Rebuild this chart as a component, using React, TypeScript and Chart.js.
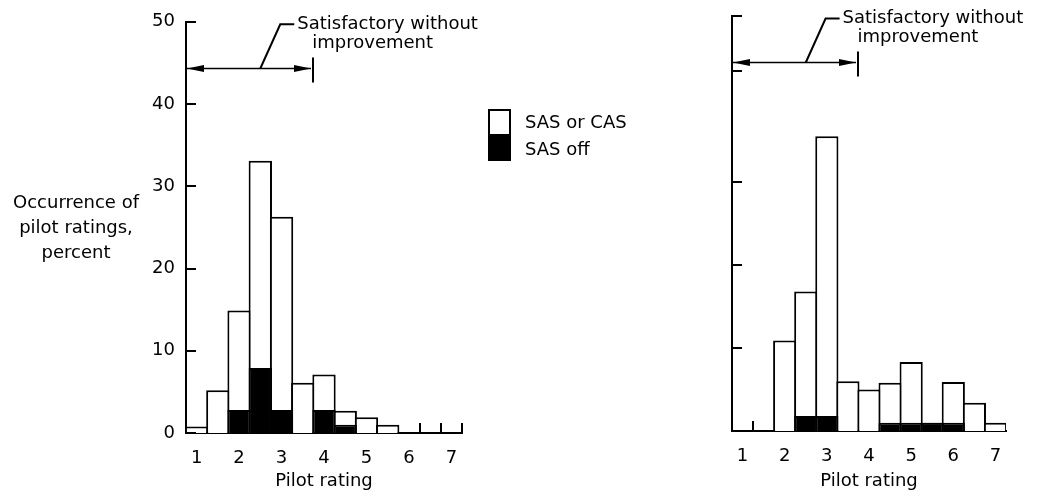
import React, { useEffect, useRef } from "react";
import { Chart, registerables } from "chart.js";

Chart.register(...registerables);

// ---- data ----
const ratings = [1, 1.5, 2, 2.5, 3, 3.5, 4, 4.5, 5, 5.5, 6, 6.5, 7];
const leftTotal = [0.8, 5.2, 14.9, 33.1, 26.3, 6.1, 7.1, 2.7, 1.9, 1.0, 0, 0, 0];
const leftOff = [0, 0, 2.8, 7.9, 2.8, 0, 2.8, 1.0, 0, 0, 0, 0, 0];
const rightTotal = [0, 0, 10.9, 16.8, 35.5, 6.0, 5.0, 5.8, 8.3, 1.0, 5.9, 3.4, 1.0];
const rightOff = [0, 0, 0, 1.8, 1.8, 0, 0, 1.0, 1.0, 1.0, 1.0, 0, 0];
const xTickValues = [1, 2, 3, 4, 5, 6, 7];
const leftYTicks = [0, 10, 20, 30, 40, 50];
const rightYTicks = [0, 10, 20, 30, 43.4, 50];
const yMax = 50;
const binWidth = 0.5;
const satisfactoryLimit = 3.75;
const arrowLevel = 44.4;
const noteLevel = 49.7;
const leaderFoot = 2.5;
const leaderTop = 2.97;
const noteLines = ["Satisfactory without", "improvement"];
const legendLabels = ["SAS or CAS", "SAS off"];
const yTitleLines = ["Occurrence of", "pilot ratings,", "percent"];
const xTitle = "Pilot rating";

const W = 1037;
const H = 502;
const FONT = "'DejaVu Sans', sans-serif";

type Area = { left: number; right: number; top: number; bottom: number };

function makeDecor(total: number[], withLegend: boolean) {
  return {
    id: "decor",
    beforeDatasetsDraw(chart: any) {
      const { ctx, chartArea } = chart;
      const x = chart.scales.x;
      ctx.save();
      ctx.strokeStyle = "#000";
      ctx.lineWidth = 2;
      // bin-boundary ticks where both neighbouring bins are empty
      for (let i = 1; i <= ratings.length; i++) {
        const lv = total[i - 1] ?? 0;
        const rv = i < ratings.length ? total[i] : 0;
        if (lv === 0 && rv === 0) {
          const xv = ratings[i - 1] + binWidth / 2;
          const px = Math.round(x.getPixelForValue(xv));
          ctx.beginPath();
          ctx.moveTo(px, chartArea.bottom);
          ctx.lineTo(px, chartArea.bottom - 10);
          ctx.stroke();
        }
      }
      ctx.restore();
    },
    afterDraw(chart: any) {
      const { ctx, chartArea } = chart;
      const x = chart.scales.x;
      const y = chart.scales.y;
      ctx.save();
      ctx.strokeStyle = "#000";
      ctx.fillStyle = "#000";
      // inward y ticks
      ctx.lineWidth = 2;
      for (const t of y.ticks) {
        const py = Math.round(y.getPixelForValue(t.value));
        ctx.beginPath();
        ctx.moveTo(chartArea.left, py);
        ctx.lineTo(chartArea.left + 10, py);
        ctx.stroke();
      }
      // double arrow
      const ay = Math.round(y.getPixelForValue(arrowLevel)) + 0.5;
      const x0 = chartArea.left + 1;
      const x1 = Math.round(x.getPixelForValue(satisfactoryLimit));
      ctx.lineWidth = 1.5;
      ctx.beginPath();
      ctx.moveTo(x0, ay);
      ctx.lineTo(x1 - 2, ay);
      ctx.stroke();
      ctx.beginPath();
      ctx.moveTo(x0, ay);
      ctx.lineTo(x0 + 17, ay - 3.5);
      ctx.lineTo(x0 + 17, ay + 3.5);
      ctx.closePath();
      ctx.fill();
      ctx.beginPath();
      ctx.moveTo(x1 - 2, ay);
      ctx.lineTo(x1 - 19, ay - 3.5);
      ctx.lineTo(x1 - 19, ay + 3.5);
      ctx.closePath();
      ctx.fill();
      ctx.lineWidth = 2;
      ctx.beginPath();
      ctx.moveTo(x1, ay - 11);
      ctx.lineTo(x1, ay + 14);
      ctx.stroke();
      // leader + note
      const fx = x.getPixelForValue(leaderFoot);
      const tx = x.getPixelForValue(leaderTop);
      const ty = y.getPixelForValue(noteLevel);
      ctx.lineWidth = 2;
      ctx.beginPath();
      ctx.moveTo(fx, ay);
      ctx.lineTo(tx, ty);
      ctx.lineTo(tx + 14, ty);
      ctx.stroke();
      ctx.font = `18px ${FONT}`;
      ctx.textBaseline = "middle";
      ctx.textAlign = "left";
      ctx.fillText(noteLines[0], tx + 17, ty);
      ctx.fillText(noteLines[1], tx + 32, ty + 19);

      if (withLegend) {
        // legend swatch
        ctx.fillStyle = "#fff";
        ctx.fillRect(489, 110, 21, 50);
        ctx.fillStyle = "#000";
        ctx.fillRect(489, 134, 21, 26);
        ctx.lineWidth = 2;
        ctx.strokeRect(489, 110, 21, 50);
        ctx.font = `18px ${FONT}`;
        ctx.textBaseline = "middle";
        ctx.fillText(legendLabels[0], 525, 123);
        ctx.fillText(legendLabels[1], 525, 150);
        // y title
        ctx.textAlign = "center";
        yTitleLines.forEach((s, i) => ctx.fillText(s, 76, 203 + i * 25));
      }
      ctx.restore();
    },
  };
}

function Panel(props: {
  total: number[];
  off: number[];
  yTicks: number[];
  showYLabels: boolean;
  area: Area;
  withLegend: boolean;
}) {
  const ref = useRef<HTMLCanvasElement | null>(null);
  const { total, off, yTicks, showYLabels, area, withLegend } = props;
  useEffect(() => {
    if (!ref.current) return;
    const barCommon = {
      grouped: false,
      barPercentage: 1.1,
      categoryPercentage: 1,
      borderColor: "#000",
      borderWidth: 2,
    };
    const chart = new Chart(ref.current, {
      type: "bar",
      data: {
        datasets: [
          {
            ...barCommon,
            label: legendLabels[1],
            data: ratings.map((r, i) => ({ x: r, y: off[i] })),
            backgroundColor: "#000",
            order: 0,
          } as any,
          {
            ...barCommon,
            label: legendLabels[0],
            data: ratings.map((r, i) => ({ x: r, y: total[i] })),
            backgroundColor: "#fff",
            order: 1,
          } as any,
        ],
      },
      options: {
        animation: false,
        responsive: false,
        devicePixelRatio: 1,
        events: [],
        layout: {
          padding: { left: 0, top: area.top, right: W - area.right, bottom: 0 },
        },
        plugins: {
          legend: { display: false },
          tooltip: { enabled: false },
          title: { display: false },
        },
        scales: {
          x: {
            type: "linear",
            offset: false,
            min: ratings[0] - binWidth / 2,
            max: ratings[ratings.length - 1] + binWidth / 2,
            afterBuildTicks: (s: any) => {
              s.ticks = xTickValues.map((v) => ({ value: v }));
            },
            afterFit: (s: any) => {
              s.height = H - area.bottom;
            },
            grid: { display: false, drawTicks: false },
            border: { display: true, color: "#000", width: 2 },
            ticks: {
              color: "#000",
              padding: 15,
              autoSkip: false,
              maxRotation: 0,
              font: { family: FONT, size: 18 },
            },
            title: {
              display: true,
              text: xTitle,
              color: "#000",
              font: { family: FONT, size: 18 },
              padding: { top: 0, bottom: 10 },
            },
          },
          y: {
            min: 0,
            max: yMax,
            afterBuildTicks: (s: any) => {
              s.ticks = yTicks.map((v) => ({ value: v }));
            },
            afterFit: (s: any) => {
              s.width = area.left;
            },
            grid: { display: false, drawTicks: false },
            border: { display: true, color: "#000", width: 2 },
            ticks: {
              display: showYLabels,
              color: "#000",
              padding: 11,
              font: { family: FONT, size: 18 },
            },
          },
        },
      } as any,
      plugins: [makeDecor(total, withLegend)],
    });
    return () => chart.destroy();
  }, []);
  return (
    <canvas
      ref={ref}
      width={W}
      height={H}
      style={{ position: "absolute", left: 0, top: 0, width: W, height: H }}
    />
  );
}

export default function App() {
  return (
    <div
      style={{
        position: "fixed",
        left: 0,
        top: 0,
        width: W,
        height: H,
        background: "#fff",
      }}
    >
      <Panel
        total={leftTotal}
        off={leftOff}
        yTicks={leftYTicks}
        showYLabels={true}
        area={{ left: 186, right: 462, top: 19, bottom: 433 }}
        withLegend={true}
      />
      <Panel
        total={rightTotal}
        off={rightOff}
        yTicks={rightYTicks}
        showYLabels={false}
        area={{ left: 732, right: 1006, top: 16, bottom: 431 }}
        withLegend={false}
      />
    </div>
  );
}
